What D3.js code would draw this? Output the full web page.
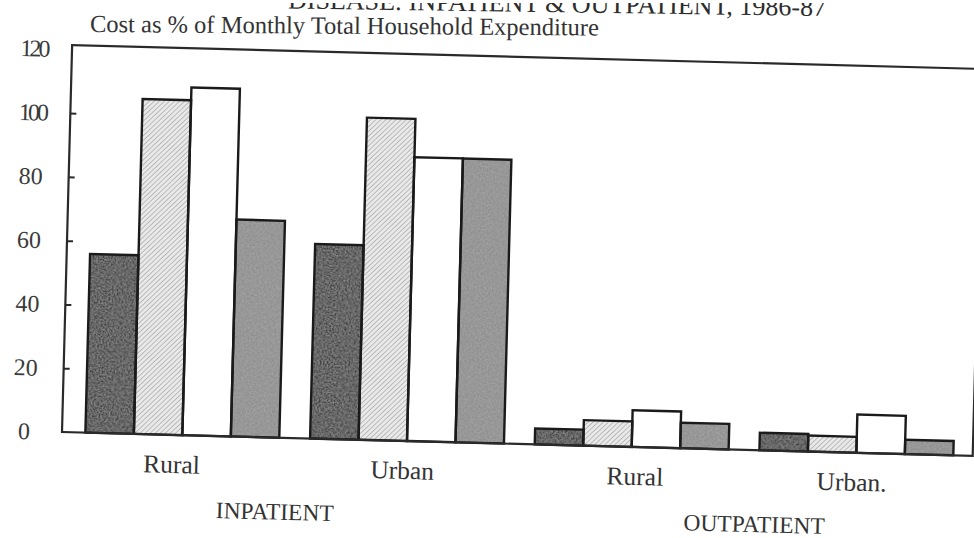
<!DOCTYPE html>
<html><head><meta charset="utf-8">
<script src="https://cdn.jsdelivr.net/npm/d3@7"></script>
<style>html,body{margin:0;padding:0;background:#fff;} svg{display:block;}</style>
</head><body><svg id="chart" width="974" height="538"></svg>
<script>
// ---- data ----
const groups = ["Inpatient Rural", "Inpatient Urban", "Outpatient Rural", "Outpatient Urban"];
const categoryLabels = ["Rural", "Urban", "Rural", "Urban."];
const sections = ["INPATIENT", "OUTPATIENT"];
const seriesNames = ["Group 1", "Group 2", "Group 3", "Group 4"];
const series1 = [56, 61, 5, 5.5];
const series2 = [105, 101, 8, 5];
const series3 = [109, 89, 11.5, 12];
const series4 = [68, 89, 8, 4.5];
const yTicks = [0, 20, 40, 60, 80, 100, 120];
const titleText = "DISEASE: INPATIENT & OUTPATIENT, 1986-87";
const subtitleText = "Cost as % of Monthly Total Household Expenditure";

const W = 974, H = 538;
const svg = d3.select("#chart");
svg.append("rect").attr("width", W).attr("height", H).attr("fill", "#fff");

const defs = svg.append("defs");
const hatch = defs.append("pattern").attr("id", "hatch")
  .attr("patternUnits", "userSpaceOnUse").attr("width", 3.5).attr("height", 3.5)
  .attr("patternTransform", "rotate(45)");
hatch.append("rect").attr("width", 3.5).attr("height", 3.5).attr("fill", "#e9e9e9");
hatch.append("line").attr("x1", 0).attr("y1", 0).attr("x2", 0).attr("y2", 3.5)
  .attr("stroke", "#9c9c9c").attr("stroke-width", 1.2);

// print-grain texture
const grain = defs.append("filter").attr("id", "grain")
  .attr("x", 0).attr("y", 0).attr("width", 1).attr("height", 1);
grain.append("feTurbulence").attr("type", "fractalNoise").attr("baseFrequency", 0.6).attr("numOctaves", 2).attr("seed", 3).attr("result", "noise");
grain.append("feColorMatrix").attr("in", "noise").attr("type", "matrix")
  .attr("values", "0 0 0 0 0.5  0 0 0 0 0.5  0 0 0 0 0.5  0 0 0 0.9 -0.25").attr("result", "n2");
grain.append("feComposite").attr("in", "n2").attr("in2", "SourceGraphic").attr("operator", "in").attr("result", "n3");
const merge = grain.append("feMerge");
merge.append("feMergeNode").attr("in", "SourceGraphic");
merge.append("feMergeNode").attr("in", "n3");

const fills = ["#3e3e3e", "url(#hatch)", "#ffffff", "#8d8d8d"];
const textured = [true, false, false, true];
const allSeries = [series1, series2, series3, series4];

const pLeft = 62, pRight = 973, pTop = 45, pBottom = 432;
const x0 = d3.scaleBand().domain(groups).range([70, 969]).paddingInner(0.137).paddingOuter(0.0685);
const x1 = d3.scaleBand().domain(seriesNames).range([0, x0.bandwidth()]).padding(0);
const y = d3.scaleLinear().domain([0, 121.3]).range([pBottom, pTop]);

// title (cut off by the top edge, as in the scan) and subtitle
svg.append("text").attr("x", 826).attr("y", 16)
  .attr("text-anchor", "end").attr("transform", "rotate(0.8,826,16)")
  .attr("font-family", "Liberation Serif").attr("font-size", 26).attr("fill", "#2c2c2c")
  .text(titleText);
svg.append("rect").attr("x", 0).attr("y", 0).attr("width", W).attr("height", 3).attr("fill", "#fff");
svg.append("text").attr("x", 90).attr("y", 32)
  .attr("transform", "rotate(0.4,90,32)")
  .attr("font-family", "Liberation Serif").attr("font-size", 24.5).attr("fill", "#333")
  .text(subtitleText);

const g = svg.append("g").attr("transform", `rotate(1.5,${pLeft},${pBottom})`);

// bars: textured fill, then crisp outline
const barData = (d, gi) => seriesNames.map((s, si) => ({ s, si, v: allSeries[si][gi] }));
const gg = g.selectAll("g.grp").data(groups).join("g").attr("class", "grp")
  .attr("transform", d => `translate(${x0(d)},0)`);
gg.selectAll("rect.fill").data(barData).join("rect").attr("class", "fill")
  .attr("x", d => x1(d.s))
  .attr("y", d => y(d.v))
  .attr("width", x1.bandwidth())
  .attr("height", d => y(0) - y(d.v))
  .attr("fill", d => fills[d.si])
  .attr("filter", d => textured[d.si] ? "url(#grain)" : null);
gg.selectAll("rect.edge").data(barData).join("rect").attr("class", "edge")
  .attr("x", d => x1(d.s))
  .attr("y", d => y(d.v))
  .attr("width", x1.bandwidth())
  .attr("height", d => y(0) - y(d.v))
  .attr("fill", "none")
  .attr("stroke", "#1a1a1a").attr("stroke-width", 2.4);

// frame
g.append("rect").attr("x", pLeft).attr("y", pTop).attr("width", pRight - pLeft).attr("height", pBottom - pTop)
  .attr("fill", "none").attr("stroke", "#2a2a2a").attr("stroke-width", 2.2);

// y axis (ticks inward)
const ax = g.append("g").attr("transform", `translate(${pLeft},0)`)
  .call(d3.axisLeft(y).tickValues(yTicks).tickSizeInner(-6).tickSizeOuter(0).tickPadding(24));
ax.select(".domain").remove();
ax.selectAll(".tick line").attr("stroke", "#2a2a2a").attr("stroke-width", 2)
  .attr("display", d => (d === 0 || d === 120) ? "none" : null);
ax.selectAll(".tick text")
  .attr("x", -38).attr("text-anchor", "middle")
  .attr("font-family", "Liberation Serif").attr("font-size", 24).attr("fill", "#3a3a3a")
  .attr("letter-spacing", d => d >= 100 ? -3 : 0);

// category labels
const catShift = [-10, -4, 4, -4];
g.selectAll("text.cat").data(groups).join("text").attr("class", "cat")
  .attr("x", (d, i) => x0(d) + x0.bandwidth() / 2 + catShift[i]).attr("y", 470)
  .attr("text-anchor", "middle")
  .attr("font-family", "Liberation Serif").attr("font-size", 25.5).attr("fill", "#333")
  .text((d, i) => categoryLabels[i]);

// section labels
const secShift = [-18, 12];
g.selectAll("text.sec").data(sections).join("text").attr("class", "sec")
  .attr("x", (d, i) => (x0(groups[2 * i]) + x0(groups[2 * i + 1]) + x0.bandwidth()) / 2 + secShift[i])
  .attr("y", 514).attr("text-anchor", "middle")
  .attr("font-family", "Liberation Serif").attr("font-size", 23.5).attr("fill", "#333")
  .text(d => d);
</script></body></html>
